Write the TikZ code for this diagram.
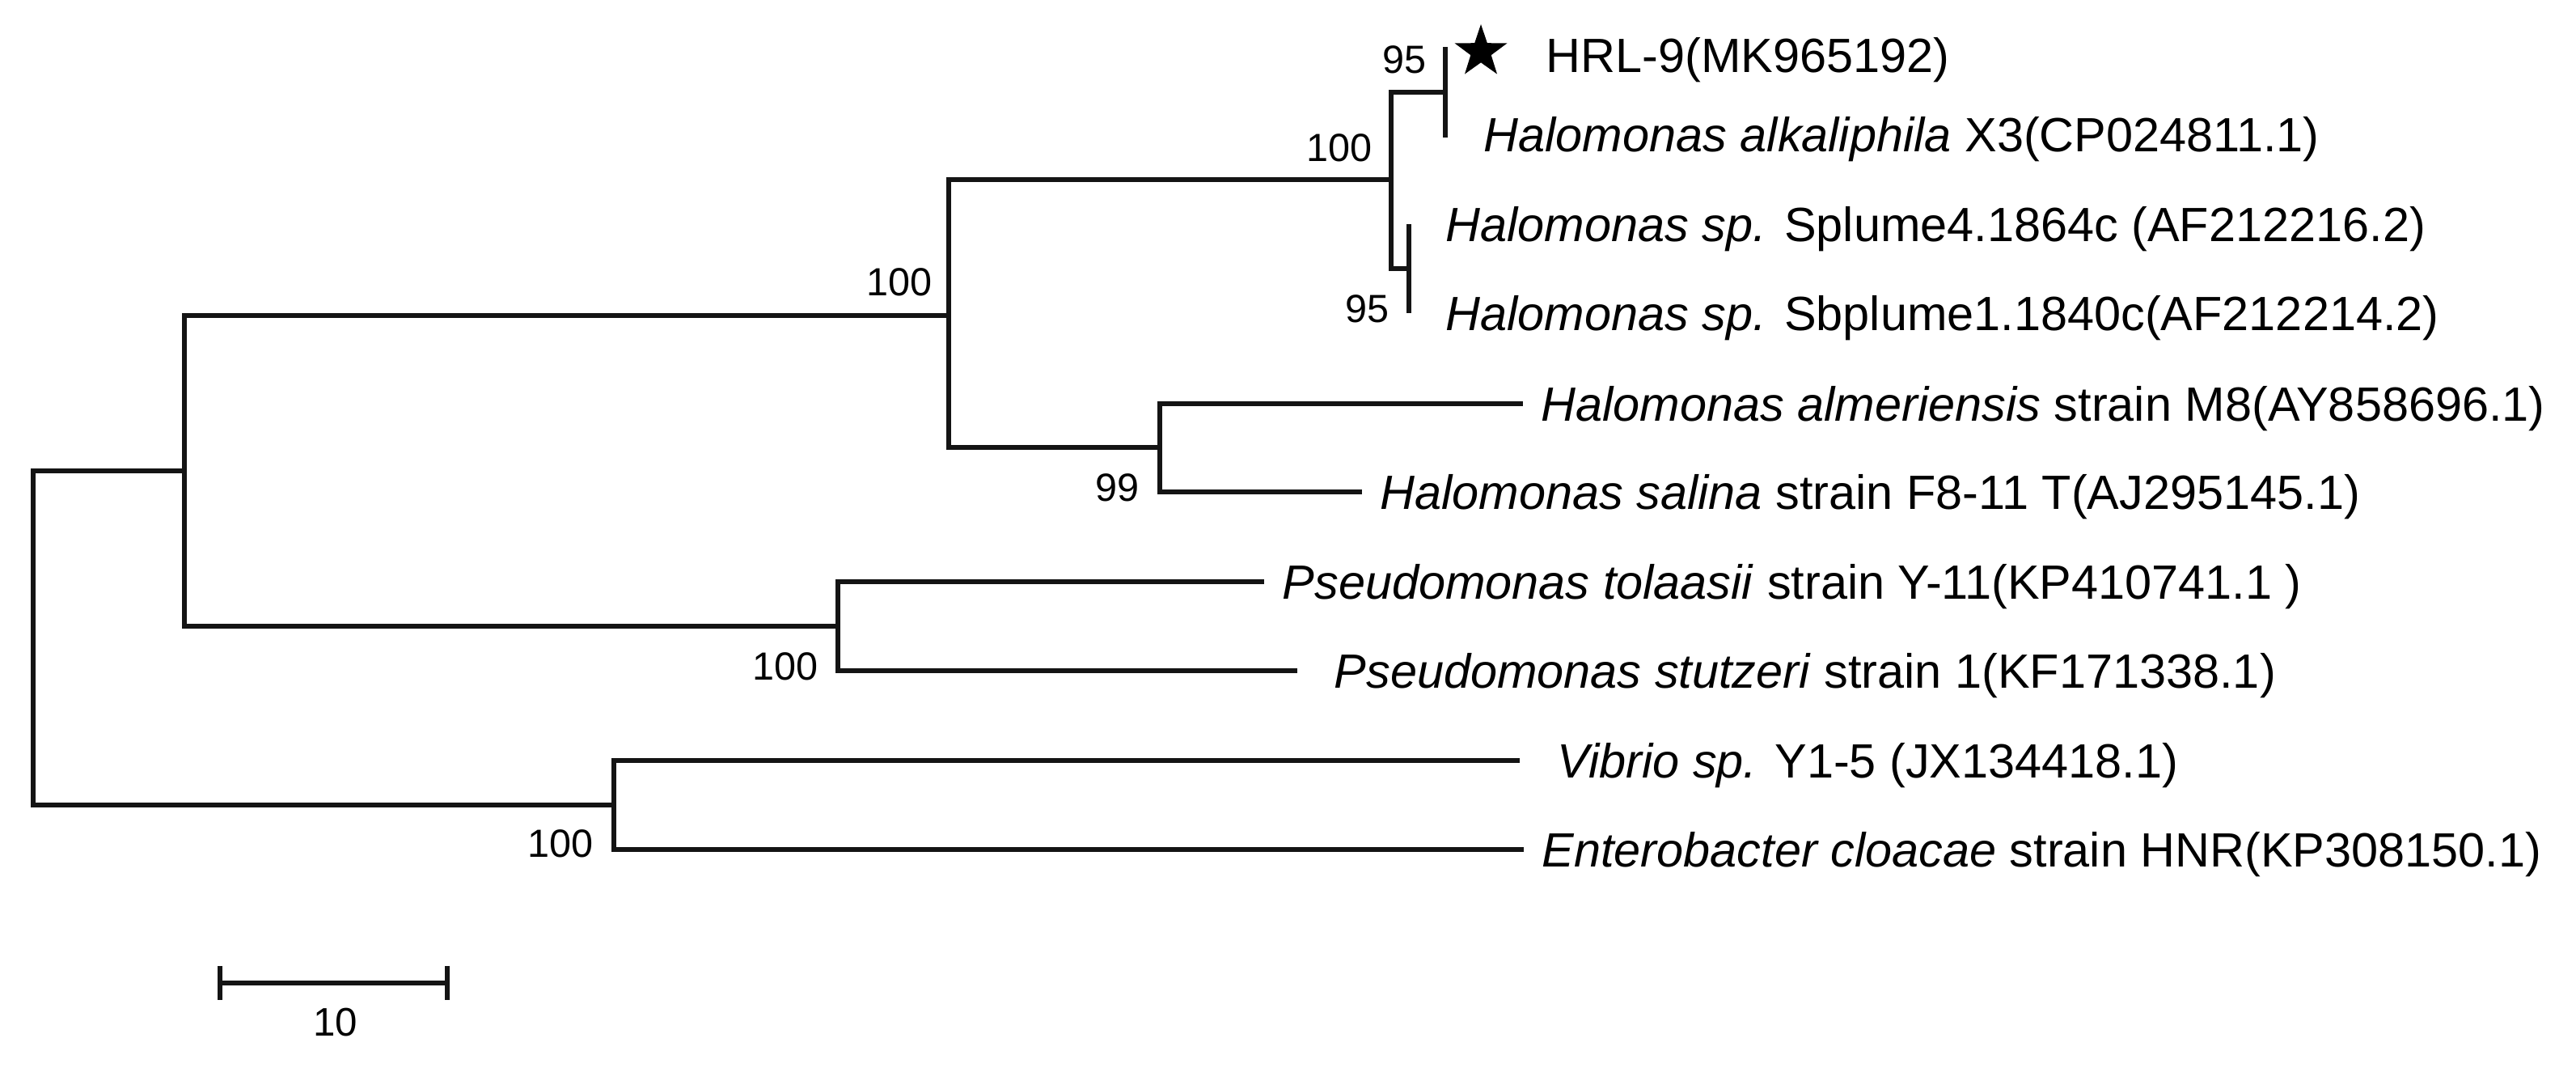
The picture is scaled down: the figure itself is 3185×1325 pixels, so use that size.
\documentclass[tikz,border=0pt]{standalone}
\usepackage{fontspec}
\setmainfont{Liberation Sans}
\usetikzlibrary{shapes.geometric}
\begin{document}
\begin{tikzpicture}[x=0.01cm,y=-0.01cm,
  br/.style={draw=black!92, line width=1.55pt},
  leaf/.style={anchor=west, inner sep=0pt, xshift=0.22cm, font=\fontsize{16.9}{19}\selectfont, text height=12.1pt, text depth=0pt},
  boot/.style={anchor=east, inner sep=0pt, font=\fontsize{13.8}{16}\selectfont, text height=9.9pt, text depth=0pt}]
\fill[white] (0,0) rectangle (3185,1325);
\useasboundingbox (0,0) rectangle (3185,1325);
% inner nodes
\coordinate (r)  at (41,788);
\coordinate (n1) at (228,582);
\coordinate (n2) at (1173,390);
\coordinate (n3) at (1720,222);
\coordinate (n4) at (1787,114);
\coordinate (n7) at (1742,332);
\coordinate (n6) at (1434,553);
\coordinate (n5) at (1036,774);
\coordinate (n8) at (759,995);
% leaf ends
\coordinate (lHRL) at (1787,58);
\coordinate (lAlk) at (1787,170);
\coordinate (lSpl) at (1742,277);
\coordinate (lSbp) at (1742,387);
\coordinate (lAlm) at (1883,499);
\coordinate (lSal) at (1684,608);
\coordinate (lTol) at (1563,719);
\coordinate (lStu) at (1604,829);
\coordinate (lVib) at (1879,940);
\coordinate (lEnt) at (1884,1050);
% branches
\draw[br] (r) |- (n1);
\draw[br] (r) |- (n8);
\draw[br] (n1) |- (n2);
\draw[br] (n1) |- (n5);
\draw[br] (n2) |- (n3);
\draw[br] (n2) |- (n6);
\draw[br] (n3) |- (n4);
\draw[br] (n3) |- (n7);
\draw[br] (n4) -- (lHRL);
\draw[br] (n4) -- (lAlk);
\draw[br] (n7) -- (lSpl);
\draw[br] (n7) -- (lSbp);
\draw[br] (n6) |- (lAlm);
\draw[br] (n6) |- (lSal);
\draw[br] (n5) |- (lTol);
\draw[br] (n5) |- (lStu);
\draw[br] (n8) |- (lVib);
\draw[br] (n8) |- (lEnt);
% leaf labels
\node[star, star points=5, star point ratio=2.55, fill=black, draw=none, inner sep=0pt, minimum size=0.68cm] (star) at (1831,64) {};
\node[leaf, xshift=0pt] (tHRL) at (1889,68) {HRL-9(MK965192)};
\node[leaf, xshift=0.25cm] (tAlk) at ([yshift=0.04cm]lAlk) {\textit{Halomonas alkaliphila} X3(CP024811.1)};
\node[leaf, xshift=0.23cm] (tSpl) at (lSpl) {\textit{Halomonas sp.} Splume4.1864c (AF212216.2)};
\node[leaf, xshift=0.23cm] (tSbp) at (lSbp) {\textit{Halomonas sp.} Sbplume1.1840c(AF212214.2)};
\node[leaf] (tAlm) at (lAlm) {\textit{Halomonas almeriensis} strain M8(AY858696.1)};
\node[leaf] (tSal) at (lSal) {\textit{Halomonas salina} strain F8-11 T(AJ295145.1)};
\node[leaf] (tTol) at (lTol) {\textit{Pseudomonas tolaasii} strain Y-11(KP410741.1 )};
\node[leaf, xshift=0.23cm] (tStu) at (lStu) {\textit{Pseudomonas stutzeri} strain 1(KF171338.1)};
\node[leaf, xshift=0.24cm] (tVib) at (lVib) {\textit{Vibrio sp.} Y1-5 (JX134418.1)};
\node[leaf] (tEnt) at (lEnt) {\textit{Enterobacter cloacae} strain HNR(KP308150.1)};
% bootstrap values
\node[boot] (b4) at (1764,73) {95};
\node[boot] (b3) at (1697,182) {100};
\node[boot] (b7) at (1718,381) {95};
\node[boot] (b2) at (1153,348) {100};
\node[boot] (b6) at (1409,602) {99};
\node[boot] (b5) at (1012,823) {100};
\node[boot] (b8) at (734,1042) {100};
% scale bar
\coordinate (sbL) at (272,1215);
\coordinate (sbR) at (553,1215);
\draw[br] (sbL) -- (sbR);
\draw[br] ([yshift=0.21cm]sbL) -- ([yshift=-0.21cm]sbL);
\draw[br] ([yshift=0.21cm]sbR) -- ([yshift=-0.21cm]sbR);
\node[inner sep=0pt, font=\fontsize{14}{16}\selectfont, text height=10pt, text depth=0pt] (sblab) at (415,1263) {10};
\end{tikzpicture}
\end{document}
